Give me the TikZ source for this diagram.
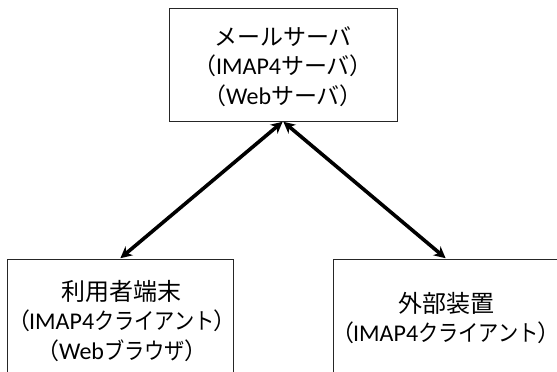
\documentclass[tikz,border=0pt]{standalone}
\usepackage{fontspec}
\setmainfont{Carlito}
\newfontfamily\jp{Noto Sans CJK JP}
\newfontfamily\jpp[RawFeature=+palt]{Noto Sans CJK JP}
\newfontfamily\jn[FakeStretch=0.88]{Noto Sans CJK JP}
\usetikzlibrary{arrows.meta}
\newcommand\kj[1]{{\jp\fontsize{24}{29.5}\selectfont #1}}
\newcommand\kn[1]{{\jp\fontsize{23}{29.5}\selectfont #1}}
\newcommand\kp[1]{{\jpp\fontsize{23}{29.5}\selectfont #1}}
\newcommand\kc[1]{{\jn\fontsize{23}{29.5}\selectfont #1}}
\tikzset{
  box/.style={draw=black!85, line width=0.9pt, rectangle, inner sep=0pt},
  txt/.style={align=center, font=\fontsize{24}{29.5}\selectfont, inner sep=0pt},
  link/.style={line width=3.6pt, {Stealth[length=11.5pt,width=11.5pt,inset=3.5pt]}-{Stealth[length=11.5pt,width=11.5pt,inset=3.5pt]}, shorten <=0.5pt, shorten >=0.5pt}
}
\begin{document}
\begin{tikzpicture}[x=1pt,y=-1pt]
\useasboundingbox (0,0) rectangle (557,372);
\clip (0,0) rectangle (557,372);
\node[box, minimum width=228pt, minimum height=113pt] (srv) at (283,64.5) {};
\node[box, minimum width=226pt, minimum height=118pt] (term) at (120,318) {};
\node[box, minimum width=226pt, minimum height=118pt] (ext) at (446,318) {};
\node[txt] (srvtxt) at (283,66.5)
  {\kn{メールサーバ}\\\kp{（}IMAP4\kn{サーバ}\kp{）}\\\kp{（}Web\kn{サーバ}\kp{）}};
\node[txt] (termtxt) at (122,321)
  {\kj{利用者端末}\\\kp{（}IMAP4\kc{クライアント}\kp{）}\\\kp{（}Web\kc{ブラウザ}\kp{）}};
\node[txt] (exttxt) at (446,318)
  {\kj{外部装置}\\\kp{（}IMAP4\kc{クライアント}\kp{）}};
\draw[link] (srv.south) -- (term.north);
\draw[link] (srv.south) -- (ext.north);
\end{tikzpicture}
\end{document}
